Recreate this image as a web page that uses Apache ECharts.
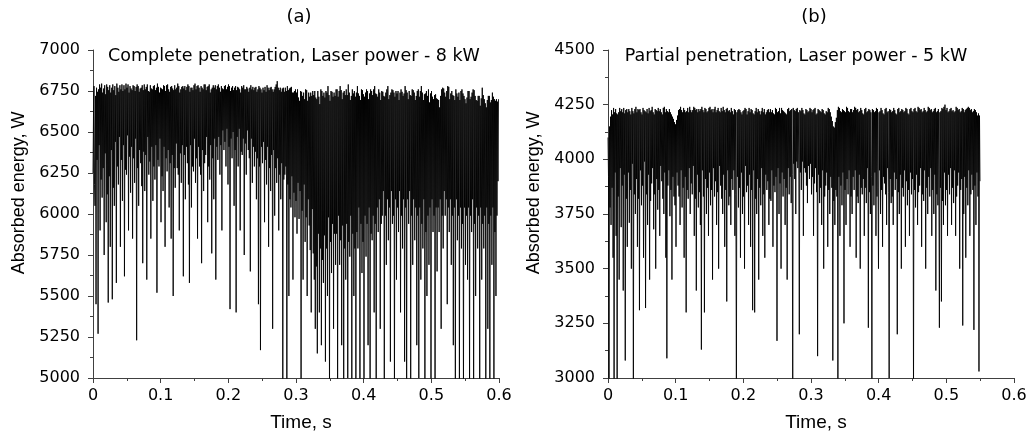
<!DOCTYPE html>
<html>
<head>
<meta charset="utf-8">
<script src="https://cdn.jsdelivr.net/npm/echarts@6/dist/echarts.min.js"></script>
<style>html,body{margin:0;padding:0;background:#fff}#c{width:1034px;height:436px}</style>
</head>
<body>
<div id="c"></div>
<script>
// sampling step (s)
var dtA = 0.00075;
var dtB = 0.00075;
// Panel (a): complete penetration, 8 kW  (each row = 0.015 s)
var energyA = [
6250,6610,6780,6180,6050,6720,5450,6770,6330,6745,5270,6760,6420,6790,5900,6770,6210,6795,6100,6740,
6280,6765,5750,6785,6370,6730,5950,6790,6120,6775,5460,6755,6230,6785,5800,6740,6390,6770,5480,6790,
6160,6755,6050,6780,6440,6725,5580,6795,6290,6770,6180,6745,6470,6785,5800,6760,6330,6790,6080,6750,
6420,6785,5620,6760,6270,6795,6240,6770,6480,6790,5900,6740,6350,6780,6130,6765,6410,6755,5850,6785,
6340,6780,6190,6750,6460,6775,5230,6790,6280,6780,6050,6745,6390,6765,6310,6770,6170,6785,5700,6755,
6380,6790,6140,6760,6360,6775,5600,6790,6470,6750,6240,6745,6320,6785,5850,6765,6410,6760,6080,6780,
6290,6785,6210,6755,6420,6770,5520,6795,6330,6775,6290,6740,6460,6770,5950,6765,6230,6760,6140,6785,
6410,6780,5800,6750,6340,6785,6260,6790,6390,6760,6040,6745,6310,6775,5850,6780,6360,6765,5500,6755,
6280,6785,6160,6760,6430,6770,6280,6795,6240,6780,5900,6740,6370,6760,6190,6775,6420,6780,5620,6765,
6360,6780,6090,6755,6410,6775,6310,6790,6180,6780,5580,6745,6420,6770,6040,6770,6290,6755,6260,6785,
6460,6795,6190,6760,6340,6780,5850,6785,6410,6770,6290,6745,6240,6780,5700,6770,6390,6760,6140,6790,
6310,6790,6360,6755,6470,6775,5950,6780,6290,6790,6210,6740,6420,6760,5760,6770,6340,6785,6090,6770,
6460,6785,5600,6760,6410,6780,6330,6790,6470,6770,6240,6745,6420,6780,5900,6765,6510,6760,6390,6780,
6440,6785,6290,6760,6520,6775,6180,6790,6410,6780,5420,6750,6460,6770,6340,6780,6500,6755,6050,6770,
6390,6780,5400,6755,6470,6775,6290,6770,6520,6760,5900,6740,6380,6780,6360,6770,6460,6785,5750,6760,
6430,6760,6240,6775,6510,6765,6390,6745,6340,6770,5650,6785,6460,6760,6190,6775,6410,6755,6290,6770,
6380,6775,6090,6745,6340,6760,5450,6780,6290,6770,5170,6760,6410,6740,6310,6770,6440,6755,5950,6775,
6330,6745,6180,6785,6410,6770,5800,6755,6280,6770,6140,6775,6360,6760,5300,6745,6390,6760,5990,6775,
6280,6790,6190,6810,6340,6770,5900,6755,6240,6770,6090,6745,6310,6765,4900,6770,6210,6745,6240,6770,
6290,6750,4900,6780,6180,6755,5500,6765,6090,6770,6040,6775,6230,6740,5600,6740,6130,6750,5980,6760,
6080,6740,5880,6760,6190,6710,5970,6690,6140,6750,4900,6745,6020,6720,5600,6740,6180,6700,5830,6760,
5980,6755,5500,6690,6090,6740,5930,6715,5780,6740,5400,6720,6030,6750,5760,6725,5600,6750,5300,6710,
5680,6700,5150,6750,5880,6715,5400,6670,5790,6760,5200,6750,5720,6720,5580,6740,5870,6710,5100,6750,
5790,6740,5500,6780,5980,6725,4900,6690,5830,6750,5640,6745,5940,6715,5300,6740,5880,6720,5690,6760,
5880,6760,4900,6715,5990,6750,5690,6780,5840,6755,5200,6700,5930,6740,4900,6750,5790,6725,5600,6760,
5940,6725,5000,6790,5830,6740,5740,6695,5990,6720,4900,6760,5880,6735,5500,6750,5790,6715,4900,6740,
5890,6780,5790,6735,6040,6720,4900,6695,5940,6760,5640,6755,5830,6730,4900,6715,5990,6740,5740,6760,
5940,6750,5200,6700,6040,6735,4900,6760,5880,6750,5840,6725,5990,6760,5400,6780,5940,6735,4900,6730,
6040,6715,5890,6760,6090,6740,5300,6695,5940,6750,5990,6745,6140,6720,4900,6715,5990,6740,5690,6760,
6090,6780,5840,6700,6040,6725,5100,6740,6140,6760,5940,6755,5990,6740,4900,6715,6090,6750,5600,6735,
6040,6750,5890,6695,6140,6740,5400,6760,5990,6745,5790,6720,6090,6735,5100,6780,6040,6755,4900,6740,
6090,6700,5940,6750,6140,6725,4900,6720,5990,6760,5690,6755,6090,6740,5840,6695,6040,6720,5200,6750,
5990,6760,5000,6715,6040,6750,5600,6780,5940,6740,5790,6695,6090,6730,4900,6735,5890,6750,5500,6720,
5990,6760,5690,6680,6040,6735,4900,6750,6090,6715,5890,6700,5990,6725,4900,6730,6040,6705,5650,6700,
6040,6695,5890,6650,6090,6720,5300,6760,5990,6770,5790,6765,6140,6740,5990,6715,6090,6750,5450,6780,
6040,6775,5890,6700,6090,6735,5690,6750,5990,6725,5200,6720,6040,6695,4900,6760,6090,6735,5840,6715,
5990,6740,4900,6695,6040,6750,5790,6760,5940,6735,4900,6720,6040,6700,5690,6675,5990,6710,5600,6750,
6040,6750,4900,6700,5990,6715,5890,6740,6090,6760,4900,6755,5940,6720,5500,6695,6040,6690,5790,6720,
5990,6720,4900,6660,6040,6705,5600,6770,5940,6725,5790,6700,5990,6675,4900,6650,6040,6695,5300,6720,
5940,6720,4900,6680,5990,6695,5690,6740,6040,6715,4900,6700,5890,6690,5500,6700,5990,6685,6200,6700
];
// Panel (b): partial penetration, 5 kW  (each row = 0.015 s)
var energyB = [
4100,3920,2950,4150,3780,4195,3700,4225,3870,4205,3550,4235,2950,4215,3940,4230,3650,4210,2950,4205,
3830,4215,3450,4235,3960,4220,3690,4230,3880,4215,3400,4235,3930,4210,3080,4225,3820,4230,3600,4215,
3940,4230,3710,4220,3860,4205,3500,4235,3980,4220,2950,4210,3840,4230,3750,4240,3910,4215,3600,4230,
3820,4225,3310,4230,3950,4215,3790,4205,3880,4235,3550,4225,3990,4220,3320,4215,3840,4230,3700,4210,
3930,4235,3450,4220,3810,4225,3890,4240,3960,4215,3680,4205,3840,4230,3500,4225,3910,4220,3770,4235,
3860,4220,3650,4230,3970,4215,3900,4205,3820,4235,3750,4240,3940,4215,3550,4230,3090,4220,3880,4215,
3950,4230,3740,4215,3860,4205,3450,4195,3920,4185,3830,4170,3790,4160,3600,4180,3940,4200,3880,4225,
3830,4230,3700,4240,3950,4225,3780,4215,3870,4235,3550,4225,3920,4215,3300,4220,3860,4235,3820,4215,
3960,4240,3750,4225,3890,4215,3840,4225,3970,4240,3650,4235,3820,4225,3400,4230,3930,4215,3780,4230,
3850,4220,3700,4230,3130,4240,3950,4225,3830,4215,3300,4235,3910,4230,3750,4215,3870,4220,3650,4235,
3940,4240,3790,4225,3860,4230,3450,4215,3960,4230,3830,4240,3900,4215,3700,4225,3850,4235,3500,4220,
3970,4215,3880,4235,3820,4220,3750,4240,3930,4225,3600,4215,3860,4230,3350,4235,3950,4220,3790,4225,
3830,4215,3700,4235,3910,4220,3860,4205,3950,4230,3650,4225,3840,2950,4215,3920,4225,3780,4230,3870,
4225,3550,4215,3940,4205,3750,4220,3830,4225,3500,4235,3970,4230,3850,4205,3880,4220,3700,4235,3930,
4215,3600,4230,3860,4225,3310,4210,3950,4205,3300,4220,3820,4235,3750,4215,3910,4230,3450,4220,3870,
4205,3790,4220,3960,4235,3650,4215,3840,4230,3550,4205,3930,4215,3860,4225,3900,4230,3700,4215,3820,
4230,3810,4215,3950,4225,3600,4210,3880,4205,3850,4235,3920,4230,3170,4215,3960,4220,3750,4235,3890,
4210,3500,4235,3940,4225,3830,4220,3910,4215,3700,4210,3870,4205,3450,4230,3960,4235,3840,4220,3920,
4225,3800,4230,3930,2950,4235,3980,4225,3910,4220,3750,4230,3990,4235,3960,4215,3970,3200,4225,3940,
4220,3860,4235,3990,4225,3650,4210,3960,4205,3940,4230,3880,4225,3800,4215,3970,4220,3910,4235,3980,
4230,3840,4215,3920,4225,3650,4230,3890,4235,3960,4205,3850,4210,3100,4230,3930,4225,3800,4220,3870,
4215,3700,4230,3950,4225,3500,4210,3830,4205,3880,4220,3940,4215,3600,4235,3860,4230,3750,4215,3920,
4195,3870,4175,3080,4150,3810,4145,3700,4170,3860,4190,3830,4225,2950,4240,3920,4235,3650,4220,3880,
4215,3790,4230,3940,4225,3250,4220,3860,4215,3700,4240,3910,4235,3840,4220,3950,4215,3600,4230,3830,
4230,3750,4215,3920,4225,3860,4240,3950,4235,3550,4225,3830,4230,3800,4215,3930,4220,3500,4235,3870,
4225,3840,4210,3910,4205,3650,4230,3870,4235,3800,4215,3960,4220,3230,4230,3850,4225,3750,4215,3920,
2950,4230,3880,4225,3790,4215,3940,4220,3650,4235,3830,4230,3870,3500,4215,3950,4220,3750,4235,3860,
4225,3600,4210,3920,4205,3890,4230,3840,4235,3700,4215,3960,4220,3850,3000,4230,3910,4225,3800,4215,
3830,4220,3700,4235,3940,4225,3860,4210,3910,4205,3200,4230,3850,4235,3750,4215,3930,4220,3500,4230,
3870,4225,3830,4215,3950,4220,3600,4235,3900,4230,3790,4210,3860,4205,3650,4230,3940,4235,3840,4220,
3910,4215,2950,4230,3860,4235,3780,4220,3930,4215,3700,4240,3850,4235,3880,4225,3960,4230,3600,4215,
3840,4220,3810,4235,3950,4225,3500,4215,3870,4220,3750,4240,3920,4235,3830,4225,3960,4230,3650,4215,
3860,4220,3750,4230,3930,4235,3400,4215,3840,4220,3790,4230,3910,3230,4215,3870,4220,3350,4235,3810,
4230,3700,4240,3940,4250,3790,4225,3860,4235,3650,4215,3930,4220,3840,4230,3960,4235,3700,4220,3870,
4225,3800,4215,3950,4220,3650,4240,3830,4235,3880,4225,3940,4230,3500,4215,3860,4220,3910,4235,3240,
4230,3750,4215,3920,4225,3550,4230,3870,4235,3790,4240,3950,4235,3650,4225,3840,4230,3930,4215,3860,
4220,3220,4230,3880,4225,3700,4215,3940,4200,3830,4210,3030,4200,3900
];
var panelTitles = ['(a)', '(b)'];
var notes = ['Complete penetration, Laser power - 8 kW', 'Partial penetration, Laser power - 5 kW'];
var xName = 'Time, s';
var yName = 'Absorbed energy, W';

function toPairs(arr, dt) {
  var out = [];
  for (var i = 0; i < arr.length; i++) out.push([+(i * dt).toFixed(6), arr[i]]);
  return out;
}

var FONT = 'DejaVu Sans';
var NAMEFONT = 'Liberation Sans';
var axisCol = '#404040';
function xAx(idx) {
  return {
    type: 'value', gridIndex: idx, min: 0, max: 0.6, interval: 0.1,
    axisLine: {show: true, lineStyle: {color: axisCol, width: 1}},
    axisTick: {show: true, length: 5, lineStyle: {color: axisCol}},
    minorTick: {show: true, splitNumber: 2, length: 3, lineStyle: {color: axisCol}},
    splitLine: {show: false},
    axisLabel: {fontFamily: FONT, fontSize: 16, color: '#000', margin: 10,
      formatter: function (v) { return String(+v.toFixed(2)); }}
  };
}
function yAx(idx, mn, mx) {
  return {
    type: 'value', gridIndex: idx, min: mn, max: mx, interval: 250,
    axisLine: {show: true, lineStyle: {color: axisCol, width: 1}},
    axisTick: {show: true, length: 5, lineStyle: {color: axisCol}},
    minorTick: {show: true, splitNumber: 2, length: 3, lineStyle: {color: axisCol}},
    splitLine: {show: false},
    axisLabel: {fontFamily: FONT, fontSize: 16, color: '#000', margin: 13,
      formatter: function (v) { return String(v); }}
  };
}
function ser(idx, arr, dt) {
  return {
    type: 'line', xAxisIndex: idx, yAxisIndex: idx, data: toPairs(arr, dt),
    showSymbol: false, symbol: 'none', clip: true, sampling: null,
    lineStyle: {color: '#000', width: 0.9}, animation: false
  };
}
function txt(s, x, y, size, fam, rot) {
  return {
    type: 'text', x: x, y: y, rotation: rot || 0, silent: true,
    style: {text: s, fill: '#000', font: size + 'px "' + fam + '"',
      align: 'center', verticalAlign: 'middle', textAlign: 'center', textVerticalAlign: 'middle'}
  };
}

var chart = echarts.init(document.getElementById('c'), null, {renderer: 'canvas'});
chart.setOption({
  backgroundColor: '#fff',
  animation: false,
  grid: [
    {left: 93, right: 535, top: 50, bottom: 58},
    {left: 608, right: 20, top: 50, bottom: 58}
  ],
  xAxis: [xAx(0), xAx(1)],
  yAxis: [yAx(0, 5000, 7000), yAx(1, 3000, 4500)],
  series: [ser(0, energyA, dtA), ser(1, energyB, dtB)],
  graphic: [
    txt(panelTitles[0], 299, 17, 18, FONT),
    txt(panelTitles[1], 814, 17, 18, FONT),
    txt(notes[0], 294, 56, 17.5, FONT),
    txt(notes[1], 796, 56, 17.5, FONT),
    txt(xName, 301, 423, 19, NAMEFONT),
    txt(xName, 816, 423, 19, NAMEFONT),
    txt(yName, 19, 193, 18, NAMEFONT, Math.PI / 2),
    txt(yName, 534, 193, 18, NAMEFONT, Math.PI / 2)
  ]
});
</script>
</body>
</html>
